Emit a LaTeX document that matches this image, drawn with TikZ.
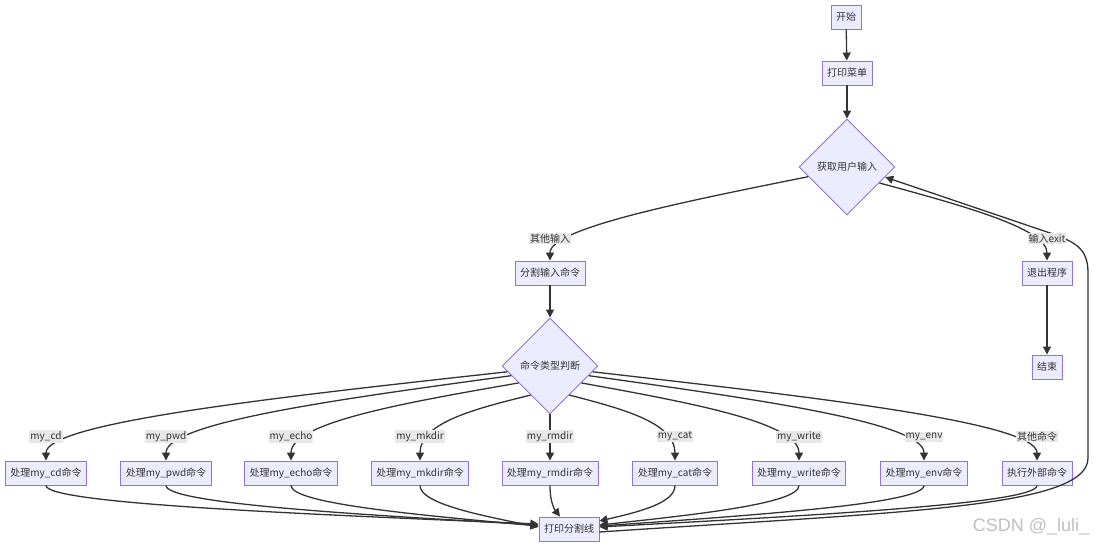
\documentclass[tikz,border=0pt]{standalone}
\usepackage{fontspec}
\setmainfont{Noto Sans CJK SC}
\newfontfamily\markfont{Liberation Sans}
\usetikzlibrary{shapes.geometric,arrows.meta,calc}
\definecolor{nodefill}{HTML}{ECECFF}
\definecolor{nodeline}{HTML}{9370DB}
\definecolor{edgeline}{HTML}{333333}
\definecolor{labelfill}{HTML}{E8E8E8}

\begin{document}
\begin{tikzpicture}[x=1pt, y=1pt,
  box/.style={draw=nodeline, fill=nodefill, line width=0.9pt, minimum height=24pt,
    inner xsep=5pt, inner ysep=0pt, text=edgeline, font=\fontsize{10}{12}\selectfont},
  choice/.style={box, diamond, aspect=1, minimum width=96pt, minimum height=96pt, inner sep=0pt},
  flow/.style={draw=edgeline, line width=1.3pt, -{Triangle[length=8pt,width=8pt]}},
  elabel/.style={fill=labelfill, text=edgeline, inner sep=1pt, font=\fontsize{10}{12}\selectfont}]
  \useasboundingbox (0,0) rectangle (1102,548);

  % main column
  \node[box] (start) at (846,531) {开始};
  \node[box] (menu) at (847,475) {打印菜单};
  \node[choice] (inp) at (847,381) {获取用户输入};
  \node[box] (split) at (550,275) {分割输入命令};
  \node[choice] (cmd) at (550,182) {命令类型判断};
  \node[box] (exitp) at (1047,275) {退出程序};
  \node[box] (endn) at (1047,181) {结束};
  \node[box] (pline) at (569,19) {打印分割线};

  % command handlers
  \foreach \n/\x/\txt in {cd/46/处理my\_cd命令, pwd/166/处理my\_pwd命令,
      echo/291/处理my\_echo命令, mkdir/420/处理my\_mkdir命令,
      rmdir/550/处理my\_rmdir命令, cat/675/处理my\_cat命令,
      write/799/处理my\_write命令, env/924/处理my\_env命令, ext/1037/执行外部命令} {
    \node[box] (p\n) at (\x,75) {\txt};
    \coordinate (t\n) at ([yshift=38]p\n.north);
    \coordinate (b\n) at ([yshift=-18]p\n.south);
  }

  % where the edges leave the diamond and reach the last box
  \foreach \n/\a/\t in {cd/west/0.12, pwd/west/0.2, echo/west/0.35, mkdir/west/0.6,
      cat/east/0.6, write/east/0.35, env/east/0.2, ext/east/0.12}
    \coordinate (s\n) at ($(cmd.\a)!\t!(cmd.south)$);
  \foreach \n/\a/\d in {cd/west/5, pwd/west/4, echo/west/3, mkdir/west/2,
      cat/east/8, write/east/4, env/east/3, ext/east/2, back/east/-3}
    \coordinate (e\n) at ([yshift=\d]pline.\a);
  \coordinate (ermdir) at ([xshift=-9]pline.north);

  \draw[flow] (start) -- (menu);
  \draw[flow] (menu) -- (inp);
  \draw[flow] (split) -- (cmd);
  \draw[flow] (exitp) -- (endn);

  \coordinate (ssplit) at ($(inp.west)!0.2!(inp.south)$);
  \coordinate (ksplit) at ([yshift=32]split.north);
  \draw[flow] (ssplit) .. controls ($(ssplit)!0.5!(ksplit)$) and (ksplit) .. (split.north);
  \coordinate (sexit) at ($(inp.east)!0.33!(inp.south)$);
  \coordinate (kexit) at ([yshift=32]exitp.north);
  \draw[flow] (sexit) .. controls ($(sexit)!0.5!(kexit)$) and (kexit) .. (exitp.north);

  \draw[flow] (cmd.south) -- (prmdir.north);
  \foreach \n in {cd, pwd, echo, mkdir, cat, write, env, ext}
    \draw[flow] (s\n) .. controls ($(s\n)!0.5!(t\n)$) and (t\n) .. (p\n.north);
  \foreach \n in {cd, pwd, echo, mkdir, rmdir, cat, write, env, ext}
    \draw[flow] (p\n.south) .. controls (b\n) and ($(b\n)!0.5!(e\n)$) .. (e\n);

  % back to the input
  \coordinate (binp) at ($(inp.east)!0.21!(inp.south)$);
  \draw[flow] (eback) .. controls (900,36) and (1088,40) .. (1088,90) -- (1088,275)
    .. controls (1088,300) and (1075,306) .. (1050,315) -- (binp);

  % edge labels
  \node[elabel] at ([yshift=22]split.north) {其他输入};
  \node[elabel] at ([yshift=22]exitp.north) {输入exit};
  \foreach \n/\lab in {cd/my\_cd, pwd/my\_pwd, echo/my\_echo, mkdir/my\_mkdir,
      rmdir/my\_rmdir, cat/my\_cat, write/my\_write, env/my\_env, ext/其他命令}
    \node[elabel] at ([yshift=24]p\n.north) {\lab};

  \node[text=black!25, font=\markfont\fontsize{18}{20}\selectfont] (wmark) at (1031,21) {CSDN @\_luli\_};
\end{tikzpicture}
\end{document}
